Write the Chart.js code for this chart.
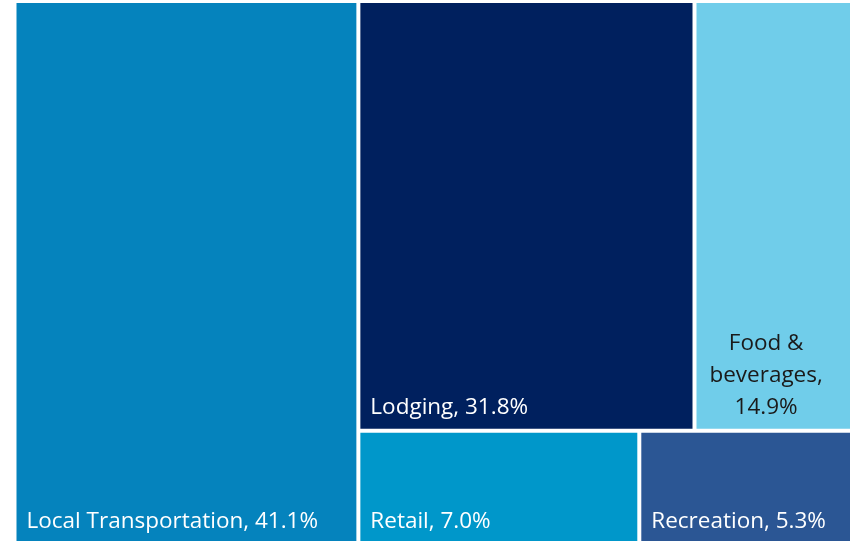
<!DOCTYPE html>
<html>
<head>
<meta charset="utf-8">
<script src="https://cdn.jsdelivr.net/npm/chart.js@4.4.1/dist/chart.umd.min.js"></script>
<style>
  html, body { margin: 0; padding: 0; background: #fff; overflow: hidden; }
  #wrap { position: relative; width: 852px; height: 544px; }
</style>
</head>
<body>
<div id="wrap"><canvas id="spendTreemap"></canvas></div>
<script>
const categories = ['Local Transportation', 'Lodging', 'Food & beverages', 'Retail', 'Recreation'];
const shares = [41.1, 31.8, 14.9, 7.0, 5.3];
const cellColors = ['#0583BD', '#00205E', '#70CDEA', '#0097CA', '#2B5694'];
const labelColors = ['#FFFFFF', '#FFFFFF', '#1A1A1A', '#FFFFFF', '#FFFFFF'];

// first cell gets a full-height column, the others are stacked in rows of two
function layoutCells(values) {
    const total = values.reduce((a, b) => a + b, 0);
    const splitX = 100 * values[0] / total;
    const boxes = [{ x0: 0, x1: splitX, y0: 0, y1: 100 }];
    const rest = total - values[0];
    let top = 100;
    for (let i = 1; i < values.length; i += 2) {
        const row = values.slice(i, i + 2);
        const rowSum = row.reduce((a, b) => a + b, 0);
        const bottom = top - 100 * rowSum / rest;
        let x = splitX;
        row.forEach(v => {
            const w = (100 - splitX) * v / rowSum;
            boxes.push({ x0: x, x1: x + w, y0: bottom, y1: top });
            x += w;
        });
        top = bottom;
    }
    return boxes;
}

// split text into lines that fit maxWidth
function wrapText(ctx, text, maxWidth) {
    const words = text.split(' ');
    const lines = [];
    let line = '';
    words.forEach(word => {
        const test = line ? line + ' ' + word : word;
        if (line && ctx.measureText(test).width > maxWidth) {
            lines.push(line);
            line = word;
        } else {
            line = test;
        }
    });
    if (line) lines.push(line);
    return lines;
}

class TreemapController extends Chart.DatasetController {
    static id = 'treemap';
    static defaults = { datasetElementType: false, dataElementType: 'bar' };
    static overrides = {
        scales: { x: { type: 'linear', display: false }, y: { type: 'linear', display: false } }
    };

    update(mode) {
        const meta = this._cachedMeta;
        this.updateElements(meta.data, 0, meta.data.length, mode);
    }

    updateElements(rects, start, count, mode) {
        const { xScale, yScale } = this._cachedMeta;
        const dataset = this.getDataset();
        const inset = (dataset.spacing || 0) / 2;
        const boxes = layoutCells(dataset.data);
        for (let i = start; i < start + count; i++) {
            const b = boxes[i];
            const left = xScale.getPixelForValue(b.x0) + inset;
            const right = xScale.getPixelForValue(b.x1) - inset;
            const top = yScale.getPixelForValue(b.y1) + inset;
            const bottom = yScale.getPixelForValue(b.y0) - inset;
            this.updateElement(rects[i], i, {
                x: right,
                base: left,
                y: (top + bottom) / 2,
                width: right - left,
                height: bottom - top,
                horizontal: true,
                inflateAmount: 0,
                borderSkipped: {},
                options: this.resolveDataElementOptions(i, mode)
            }, mode);
        }
    }

    draw() {
        super.draw();
        const ctx = this.chart.ctx;
        const dataset = this.getDataset();
        const font = dataset.labelFont;
        const pad = dataset.labelPadding;
        ctx.save();
        ctx.font = font.size + 'px ' + font.family;
        ctx.textBaseline = 'alphabetic';
        this._cachedMeta.data.forEach((el, i) => {
            const { x, base, y, height } = el.getProps(['x', 'base', 'y', 'height']);
            const left = Math.min(x, base);
            const right = Math.max(x, base);
            const bottom = y + height / 2;
            const text = dataset.labels[i] + ', ' + dataset.data[i].toFixed(1) + '%';
            const maxWidth = right - left - 2 * pad.x;
            ctx.fillStyle = dataset.labelColors[i];
            if (ctx.measureText(text).width <= maxWidth) {
                ctx.textAlign = 'left';
                ctx.fillText(text, left + pad.x, bottom - pad.bottom);
                return;
            }
            // wrapped label: lines centred inside the block, block sits at the bottom
            const lines = wrapText(ctx, text, maxWidth);
            const widths = lines.map((l, k) => ctx.measureText(k < lines.length - 1 ? l + ' ' : l).width);
            const blockW = Math.max.apply(null, widths);
            const cx = left + pad.x + blockW / 2;
            ctx.textAlign = 'center';
            lines.forEach((l, k) => {
                const baseline = bottom - pad.bottom - (lines.length - 1 - k) * font.lineHeight;
                ctx.fillText(l, cx, baseline);
            });
        });
        ctx.restore();
    }
}
Chart.register(TreemapController);

new Chart(document.getElementById('spendTreemap'), {
    type: 'treemap',
    data: {
        datasets: [{
            labels: categories,
            data: shares,
            backgroundColor: cellColors,
            labelColors: labelColors,
            spacing: 4,
            labelFont: { family: "'Segoe UI', 'Open Sans', sans-serif", size: 22.5, lineHeight: 32 },
            labelPadding: { x: 10, bottom: 14.5 }
        }]
    },
    options: {
        responsive: true,
        maintainAspectRatio: false,
        animation: false,
        events: [],
        layout: { padding: { left: 14.5, top: 1 } },
        scales: {
            x: { type: 'linear', min: 0, max: 100, display: false },
            y: { type: 'linear', min: 0, max: 100, display: false }
        },
        plugins: {
            legend: { display: false },
            tooltip: { enabled: false }
        }
    }
});
</script>
</body>
</html>
